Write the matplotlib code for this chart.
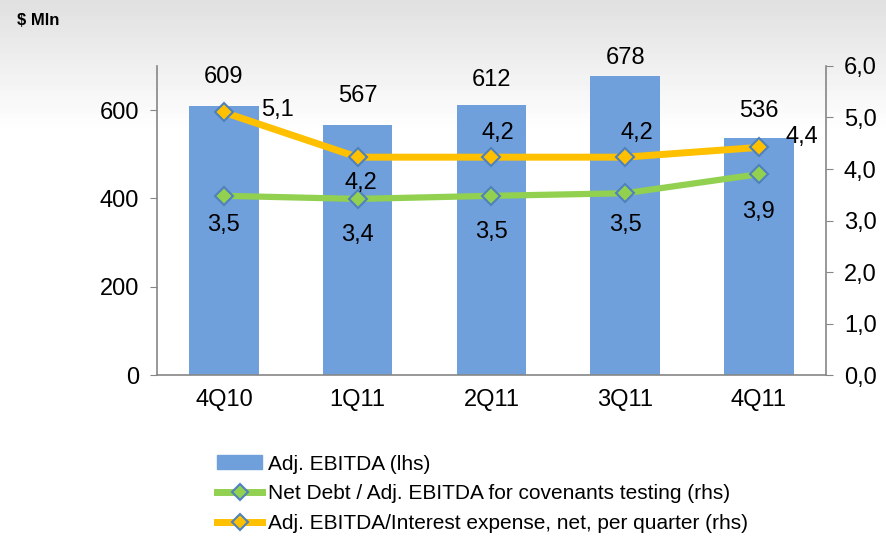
import matplotlib
matplotlib.use("Agg")
import matplotlib.pyplot as plt
from matplotlib.lines import Line2D
from matplotlib.patches import Patch
import numpy as np

quarters = ["4Q10", "1Q11", "2Q11", "3Q11", "4Q11"]
ebitda = [609, 567, 612, 678, 536]
net_debt_ratio = [3.48, 3.42, 3.48, 3.53, 3.9]
interest_cover = [5.1, 4.23, 4.23, 4.23, 4.42]
net_debt_labels = ["3,5", "3,4", "3,5", "3,5", "3,9"]
cover_labels = ["5,1", "4,2", "4,2", "4,2", "4,4"]

plt.rcParams['font.family'] = ['Liberation Sans', 'DejaVu Sans']

BAR = "#6fa0dc"
GREEN = "#92d050"
YELLOW = "#ffc000"
EDGE = "#4f81bd"
GRAY = "#868686"

fig = plt.figure(figsize=(8.87, 5.36), dpi=100)

# light gray gradient at the top
bg = fig.add_axes([0, 0, 1, 1], zorder=-10)
grad = np.ones((100, 1))
grad[:25, 0] = np.linspace(0.88, 1.0, 25)
bg.imshow(grad, cmap="gray", vmin=0, vmax=1, aspect="auto", extent=[0, 1, 0, 1])
bg.axis("off")

ax = fig.add_axes([0.177, 0.300, 0.754, 0.577])
ax.patch.set_alpha(0)
x = np.arange(len(quarters))
ax.bar(x, ebitda, width=0.52, color=BAR, zorder=1)
ax.set_xlim(-0.5, 4.5)
ax.set_ylim(0, 700)
ax.set_yticks([0, 200, 400, 600])
ax.set_xticks(x)
ax.set_xticklabels(quarters, fontsize=17)
ax.tick_params(axis="y", labelsize=17, length=5, color=GRAY, pad=8)
ax.tick_params(axis="x", length=0, pad=10)
for s in ["top", "right"]:
    ax.spines[s].set_visible(False)
for s in ["left", "bottom"]:
    ax.spines[s].set_color(GRAY)
    ax.spines[s].set_linewidth(1.2)

bar_label_offsets = [29, 29, 25, 18, 27]
for i, v in enumerate(ebitda):
    ax.annotate(str(v), (i, v), xytext=(0, bar_label_offsets[i]), textcoords="offset pixels",
                ha="center", va="center", fontsize=17)

ax2 = ax.twinx()
ax2.set_ylim(0, 6)
ax2.set_yticks(range(7))
ax2.set_yticklabels(["0,0", "1,0", "2,0", "3,0", "4,0", "5,0", "6,0"])
ax2.tick_params(axis="y", labelsize=17, length=5, color=GRAY, pad=8)
for s in ["top", "left", "bottom"]:
    ax2.spines[s].set_visible(False)
ax2.spines["right"].set_color(GRAY)
ax2.spines["right"].set_linewidth(1.2)

ax2.plot(x, net_debt_ratio, color=GREEN, lw=4.5, marker="D", ms=9.5,
         mfc=GREEN, mec=EDGE, mew=1.5, solid_capstyle="round")
ax2.plot(x, interest_cover, color=YELLOW, lw=5, marker="D", ms=9.5,
         mfc=YELLOW, mec=EDGE, mew=1.5, solid_capstyle="round")

green_offsets = [(0, -29), (0, -36), (0, -36), (0, -32), (0, -38)]
for i, lab in enumerate(net_debt_labels):
    ax2.annotate(lab, (i, net_debt_ratio[i]), xytext=green_offsets[i],
                 textcoords="offset pixels", ha="center", va="center", fontsize=17)

yellow_offsets = [(37, 2, "left"), (3, -26, "center"), (6, 24, "center"),
                  (12, 24, "center"), (27, 10, "left")]
for i, lab in enumerate(cover_labels):
    dx, dy, ha = yellow_offsets[i]
    ax2.annotate(lab, (i, interest_cover[i]), xytext=(dx, dy),
                 textcoords="offset pixels", ha=ha, va="center", fontsize=17)

fig.text(0.019, 0.962, "$ Mln", fontsize=12, fontweight="bold", ha="left", va="center")

handles = [
    Patch(color=BAR),
    Line2D([], [], color=GREEN, lw=5, marker="D", ms=8, mfc=GREEN, mec=EDGE, mew=1.5),
    Line2D([], [], color=YELLOW, lw=5, marker="D", ms=8, mfc=YELLOW, mec=EDGE, mew=1.5),
]
labels = ["Adj. EBITDA (lhs)",
          "Net Debt / Adj. EBITDA for covenants testing (rhs)",
          "Adj. EBITDA/Interest expense, net, per quarter (rhs)"]
fig.legend(handles, labels, loc="upper left", bbox_to_anchor=(0.245, 0.152),
           frameon=False, fontsize=15, handlelength=2.15, handleheight=0.65,
           handletextpad=0.3, labelspacing=0.52, borderaxespad=0, borderpad=0)

fig.savefig("out.png", dpi=100)
